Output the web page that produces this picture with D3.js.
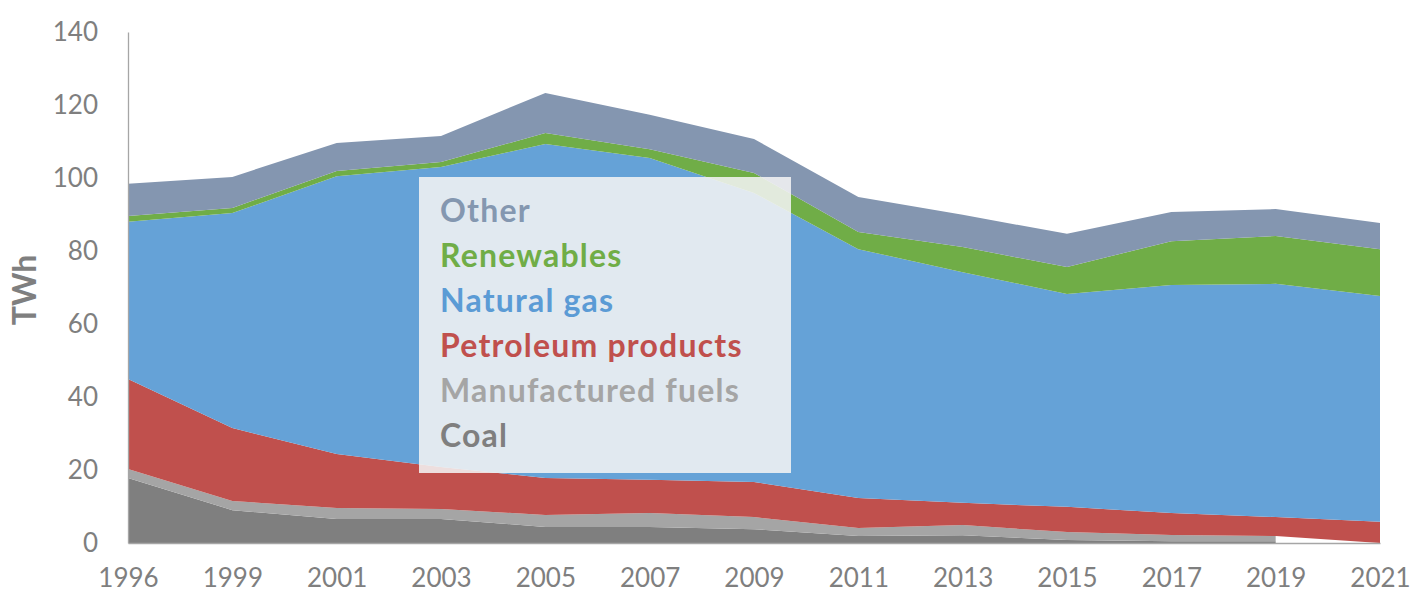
<!DOCTYPE html>
<html>
<head>
<meta charset="utf-8">
<script src="https://cdn.jsdelivr.net/npm/d3@7"></script>
<style>
  html, body { margin: 0; padding: 0; background: #ffffff; }
  svg { display: block; }
  text { font-family: Lato, "Open Sans", sans-serif; }
</style>
</head>
<body>
<svg id="chart" width="1415" height="594"></svg>
<script>
// Energy use by fuel, TWh (stacked from the bottom up)
const years = ["1996", "1999", "2001", "2003", "2005", "2007", "2009", "2011", "2013", "2015", "2017", "2019", "2021"];
const coal         = [17.8, 9.0, 6.6, 6.6, 4.4, 4.4, 3.8, 1.9, 2.1, 0.8, 0.5, 0.5, null];
const manufactured = [2.5, 2.5, 3.0, 2.7, 3.3, 3.8, 3.3, 2.2, 2.8, 2.2, 1.7, 1.4, null];
const petroleum    = [24.6, 20.0, 14.8, 11.5, 10.1, 9.1, 9.6, 8.2, 6.1, 6.9, 6.0, 5.2, 5.8];
const naturalGas   = [43.1, 58.9, 76.1, 82.2, 91.5, 88.2, 79.2, 68.2, 63.2, 58.3, 62.5, 63.9, 61.9];
const renewables   = [1.6, 1.4, 1.4, 1.4, 3.0, 2.4, 5.5, 4.7, 6.9, 7.4, 12.0, 13.1, 12.8];
const other        = [8.8, 8.5, 7.7, 7.1, 11.0, 9.4, 9.3, 9.6, 8.8, 9.1, 8.0, 7.4, 7.2];
const yTicks = [0, 20, 40, 60, 80, 100, 120, 140];

const series = [
  { key: "coal",         name: "Coal",               values: coal,         color: "#7f7f7f" },
  { key: "manufactured", name: "Manufactured fuels", values: manufactured, color: "#a5a5a5" },
  { key: "petroleum",    name: "Petroleum products", values: petroleum,    color: "#c0504d" },
  { key: "gas",          name: "Natural gas",        values: naturalGas,   color: "#65a2d7" },
  { key: "renewables",   name: "Renewables",         values: renewables,   color: "#70ad47" },
  { key: "other",        name: "Other",              values: other,        color: "#8496b0" }
];

// Row table for d3.stack; blank cells stack as zero but are not drawn
const rows = years.map((y, i) => {
  const r = { year: y };
  series.forEach(s => { r[s.key] = s.values[i] == null ? 0 : s.values[i]; });
  return r;
});

const svg = d3.select("#chart");
const x = d3.scalePoint().domain(years).range([128, 1380]);
const yScale = d3.scaleLinear().domain([0, 140]).range([543, 32]);

const stacked = d3.stack().keys(series.map(s => s.key))(rows);

stacked.forEach((layer, li) => {
  const s = series[li];
  const area = d3.area()
    .defined((d, i) => s.values[i] != null)
    .x(d => x(d.data.year))
    .y0(d => yScale(d[0]))
    .y1(d => yScale(d[1]));
  svg.append("path")
    .datum(layer)
    .attr("d", area)
    .attr("fill", s.color);
});

// Axes
const axisColor = "#a6a6a6";
const labelColor = "#7f7f7f";

const gy = svg.append("g")
  .attr("transform", `translate(${x(years[0])},0)`)
  .call(d3.axisLeft(yScale).tickValues(yTicks).tickSize(0).tickSizeOuter(0).tickPadding(30));
gy.select(".domain").attr("stroke", axisColor).attr("stroke-width", 1.3);
gy.selectAll("text")
  .attr("fill", labelColor)
  .style("font-size", "26px");

const gx = svg.append("g")
  .attr("transform", `translate(0,${yScale(0)})`)
  .call(d3.axisBottom(x).tickSize(0).tickSizeOuter(0).tickPadding(26));
gx.select(".domain").attr("stroke", axisColor).attr("stroke-width", 1.5);
gx.selectAll("text")
  .attr("fill", labelColor)
  .style("font-size", "26px");

// Y axis title
svg.append("text")
  .attr("transform", "translate(36,290) rotate(-90)")
  .attr("text-anchor", "middle")
  .attr("fill", labelColor)
  .style("font-size", "32px")
  .style("font-weight", "bold")
  .text("TWh");

// Legend, top entry first
const legend = svg.append("g");
legend.append("rect")
  .attr("x", 419).attr("y", 177)
  .attr("width", 372).attr("height", 296)
  .attr("fill", "#f4f4f4")
  .attr("fill-opacity", 0.87);

const legendColors = {
  other: "#8497b0", renewables: "#70ad47", gas: "#5b9bd5",
  petroleum: "#c0504d", manufactured: "#a5a5a5", coal: "#7f7f7f"
};
series.slice().reverse().forEach((s, i) => {
  legend.append("text")
    .attr("x", 440)
    .attr("y", 222 + i * 45)
    .attr("fill", legendColors[s.key])
    .style("font-size", "32px")
    .style("letter-spacing", "1.2px")
    .style("font-weight", "bold")
    .text(s.name);
});
</script>
</body>
</html>
